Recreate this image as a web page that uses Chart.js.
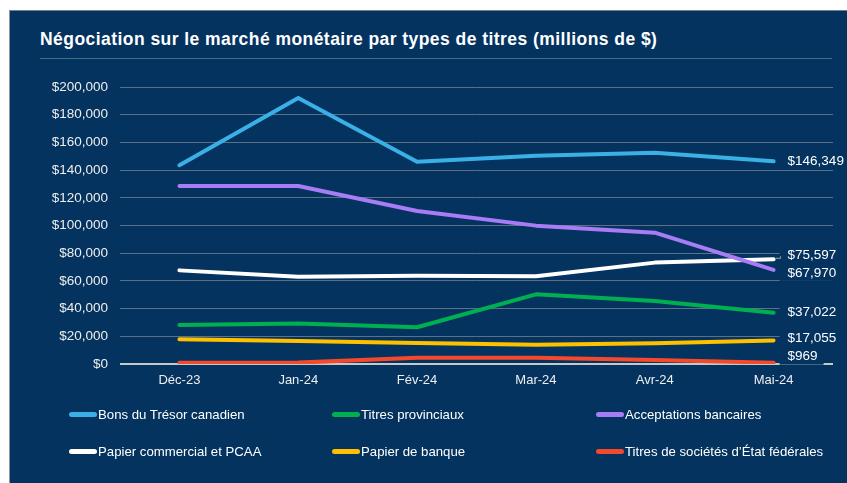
<!DOCTYPE html>
<html>
<head>
<meta charset="utf-8">
<script src="https://cdn.jsdelivr.net/npm/chart.js@4"></script>
<style>
  html, body { margin:0; padding:0; background:#ffffff; width:847px; height:483px; overflow:hidden; }
  body { position:relative; font-family:"Liberation Sans", Arial, sans-serif; }
  #panel { position:absolute; left:9px; top:10px; width:838px; height:473px; background:#04335f;
           border-top:1px solid #6d8196; border-left:1px solid #8a97a6; box-sizing:border-box; }
  #title { position:absolute; left:40px; top:29px; color:#ffffff; font-weight:bold; font-size:17.5px;
           white-space:nowrap; letter-spacing:0.45px; line-height:20px; }
  #rule { position:absolute; left:40px; top:58px; width:792px; height:1px; background:#3f7088; }
  #wrap { position:absolute; left:0; top:0; width:847px; height:483px; }
  #legend { position:absolute; left:0; top:0; width:847px; height:483px; pointer-events:none; }
  .item { position:absolute; display:flex; align-items:center; color:#ffffff; font-size:13.2px; white-space:nowrap; }
  .sw { width:28px; height:5px; border-radius:3px; margin-right:1px; }
</style>
</head>
<body>
<div id="panel"></div>
<div id="title">Négociation sur le marché monétaire par types de titres (millions de $)</div>
<div id="rule"></div>
<div id="wrap"><canvas id="c" width="847" height="483"></canvas></div>
<div id="legend"></div>
<script>
const categories = ['Déc-23', 'Jan-24', 'Fév-24', 'Mar-24', 'Avr-24', 'Mai-24'];
const seriesNames = [
  'Bons du Trésor canadien',
  'Titres provinciaux',
  'Acceptations bancaires',
  'Papier commercial et PCAA',
  'Papier de banque',
  'Titres de sociétés d\u2019État fédérales'
];
const bonsTresor        = [143500, 192000, 146000, 150400, 152600, 146349];
const titresProvinciaux = [28200, 29200, 26500, 50300, 45500, 37022];
const acceptations      = [128500, 128500, 110500, 99900, 94800, 67970];
const papierCommercial  = [67600, 63000, 63800, 63300, 73200, 75597];
const papierBanque      = [17800, 16600, 15200, 13900, 14900, 17055];
const societesEtat      = [900, 1000, 4500, 4500, 2900, 969];
const yTicks = [0, 20000, 40000, 60000, 80000, 100000, 120000, 140000, 160000, 180000, 200000];

const colors = ['#3ab0e6', '#00b050', '#a87cf4', '#ffffff', '#ffc000', '#f44a2b'];
const seriesData = [bonsTresor, titresProvinciaux, acceptations, papierCommercial, papierBanque, societesEtat];
// label vertical nudges (px) for end labels: blue, green, purple, white, yellow, red
const labelNudge = [0, 0, 3, -4, -2, -6];
const fmt = v => '$' + Math.round(v).toLocaleString('en-US');
const FONT = '"Liberation Sans", Arial, sans-serif';

const endLabels = {
  id: 'endLabels',
  afterDatasetsDraw(chart) {
    const ctx = chart.ctx;
    ctx.save();
    ctx.font = '13.5px ' + FONT;
    ctx.textBaseline = 'middle';
    ctx.textAlign = 'left';
    chart.data.datasets.forEach((ds, i) => {
      const meta = chart.getDatasetMeta(i);
      const pt = meta.data[meta.data.length - 1];
      const val = ds.data[ds.data.length - 1];
      const txt = fmt(val);
      const ty = pt.y + labelNudge[i];
      const tx = pt.x + 14;
      const w = ctx.measureText(txt).width;
      ctx.fillStyle = '#04335f';
      ctx.fillRect(tx - 8, ty - 8, w + 14, 16);
      if (i === 3) {
        ctx.strokeStyle = '#a6a6a6';
        ctx.lineWidth = 1;
        ctx.beginPath();
        ctx.moveTo(pt.x + 2, pt.y - 1);
        ctx.lineTo(tx - 7, pt.y - 1);
        ctx.lineTo(tx - 7, ty + 1);
        ctx.stroke();
      }
      ctx.fillStyle = '#ffffff';
      ctx.fillText(txt, tx, ty);
    });
    ctx.restore();
  }
};

const datasets = seriesNames.map((name, i) => ({
  label: name,
  data: seriesData[i],
  borderColor: colors[i],
  backgroundColor: colors[i],
  borderWidth: 4,
  borderCapStyle: 'round',
  borderJoinStyle: 'round',
  pointRadius: 0,
  tension: 0,
  fill: false
}));

new Chart(document.getElementById('c'), {
  type: 'line',
  data: { labels: categories, datasets },
  plugins: [endLabels],
  options: {
    responsive: false,
    animation: false,
    devicePixelRatio: 1,
    layout: { padding: { left: 0, top: 87, right: 14, bottom: 0 } },
    plugins: { legend: { display: false }, title: { display: false }, tooltip: { enabled: false } },
    scales: {
      x: {
        offset: true,
        grid: { display: false, drawTicks: false },
        border: { display: false },
        ticks: { color: '#eeeeee', font: { family: FONT, size: 13 }, padding: 9, maxRotation: 0 },
        afterFit(scale) { scale.height = 119; }
      },
      y: {
        min: 0, max: 200000,
        afterBuildTicks(scale) { scale.ticks = yTicks.map(v => ({ value: v })); },
        grid: {
          drawTicks: false,
          color: ctx => ctx.tick && ctx.tick.value === 0 ? '#c8c8c8' : '#5d7086',
          lineWidth: ctx => ctx.tick && ctx.tick.value === 0 ? 2 : 1
        },
        border: { display: false },
        ticks: { color: '#eeeeee', font: { family: FONT, size: 13.5 }, padding: 12, callback: v => fmt(v) },
        afterFit(scale) { scale.width = 120; }
      }
    }
  }
});

// legend
const legendPos = [[69, 414], [332, 414], [596, 414], [69, 451], [332, 451], [596, 451]];
const lg = document.getElementById('legend');
seriesNames.forEach((name, i) => {
  const d = document.createElement('div');
  d.className = 'item';
  d.style.left = legendPos[i][0] + 'px';
  d.style.top = (legendPos[i][1] - 8) + 'px';
  d.style.height = '16px';
  d.innerHTML = '<span class="sw" style="background:' + colors[i] + '"></span><span>' + name + '</span>';
  lg.appendChild(d);
});
</script>
</body>
</html>
